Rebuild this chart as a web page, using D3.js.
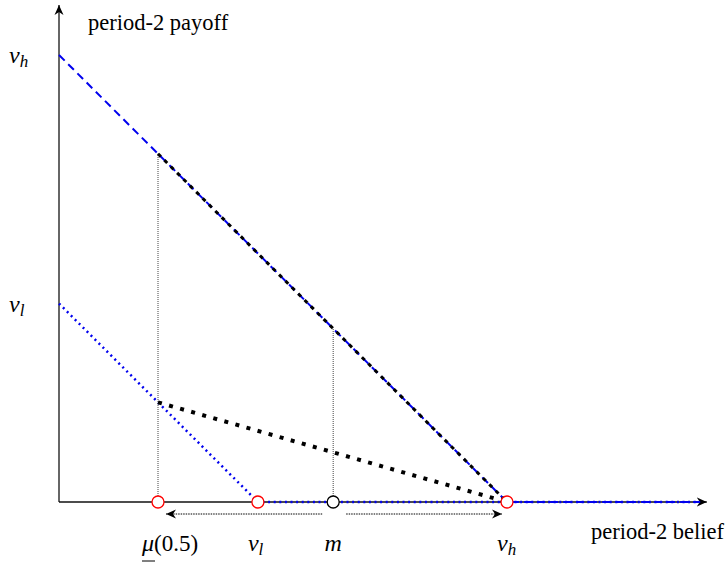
<!DOCTYPE html>
<html>
<head>
<meta charset="utf-8">
<script src="https://d3js.org/d3.v7.min.js"></script>
<style>
body { margin: 0; background: #fff; }
</style>
</head>
<body>
<div id="chart"></div>
<script>
// values in belief / payoff units (v_h normalised to 1)
var vh = 1, vl = 0.444, mu = 0.221, m = 0.612;
var xTicks = [mu, vl, m, vh];
var xTickLabels = ["mu", "vl", "m", "vh"];
var yTicks = [vh, vl];
var yTickLabels = ["vh", "vl"];
var redPoints = [mu, vl, vh];
var blackPoints = [m];

var w = 725, h = 565;
var serif = "'Liberation Serif', 'DejaVu Serif', serif";
var x = d3.scaleLinear().domain([0, 1]).range([59, 507]);
var y = d3.scaleLinear().domain([0, 1]).range([502, 55]);
var xMax = 1.446, yMax = 1.112;

var svg = d3.select("#chart").append("svg")
	.attr("width", w)
	.attr("height", h)
	.style("font-family", serif);

// arrowhead marker
var defs = svg.append("defs");
defs.append("marker")
	.attr("id", "head")
	.attr("viewBox", "-10 -5 11 10")
	.attr("refX", 0).attr("refY", 0)
	.attr("markerWidth", 11).attr("markerHeight", 10)
	.attr("markerUnits", "userSpaceOnUse")
	.attr("orient", "auto-start-reverse")
	.append("path")
	.attr("d", "M0,0 L-10,-4.5 L-7,0 L-10,4.5 Z")
	.attr("fill", "#000");

var line = d3.line().x(function(d) { return x(d[0]); }).y(function(d) { return y(d[1]); });

// axes
svg.append("line")
	.attr("x1", x(0)).attr("y1", y(0)).attr("x2", x(0)).attr("y2", y(yMax))
	.attr("stroke", "#333").attr("stroke-width", 1.5)
	.attr("marker-end", "url(#head)");
svg.append("line")
	.attr("x1", x(0)).attr("y1", y(0)).attr("x2", x(xMax)).attr("y2", y(0))
	.attr("stroke", "#111").attr("stroke-width", 1.5)
	.attr("marker-end", "url(#head)");

// blue lines
svg.append("path")
	.attr("d", line([[0, vh], [vh, 0], [xMax - 0.015, 0]]))
	.attr("fill", "none").attr("stroke", "#0000ee").attr("stroke-width", 2)
	.attr("stroke-dasharray", "8,5");
svg.append("path")
	.attr("d", line([[0, vl], [vl, 0], [xMax - 0.015, 0]]))
	.attr("fill", "none").attr("stroke", "#0000ee").attr("stroke-width", 2.5)
	.attr("stroke-dasharray", "2,3.6");

// vertical guides
[mu, m].forEach(function(b) {
	svg.append("line")
		.attr("x1", x(b)).attr("x2", x(b))
		.attr("y1", y(0)).attr("y2", y(vh - b))
		.attr("stroke", "#444").attr("stroke-width", 1)
		.attr("stroke-dasharray", "1,1");
});

// black overlays
svg.append("path")
	.attr("d", line([[mu, vh - mu], [vh, 0]]))
	.attr("fill", "none").attr("stroke", "#000").attr("stroke-width", 3)
	.attr("stroke-dasharray", "4,5");
svg.append("path")
	.attr("d", line([[mu, vl - mu], [vh, 0]]))
	.attr("fill", "none").attr("stroke", "#000").attr("stroke-width", 4)
	.attr("stroke-dasharray", "4,7.5");

// double arrow under the axis
var ay = y(0) + 12;
svg.append("line")
	.attr("x1", x(m) - 11).attr("x2", x(mu) + 8)
	.attr("y1", ay).attr("y2", ay)
	.attr("stroke", "#000").attr("stroke-width", 1)
	.attr("stroke-dasharray", "1.5,1")
	.attr("marker-end", "url(#head)");
svg.append("line")
	.attr("x1", x(m) + 13).attr("x2", x(vh) - 5)
	.attr("y1", ay).attr("y2", ay)
	.attr("stroke", "#000").attr("stroke-width", 1)
	.attr("stroke-dasharray", "1.5,1")
	.attr("marker-end", "url(#head)");

// points
svg.selectAll("circle.red").data(redPoints).enter().append("circle")
	.attr("class", "red")
	.attr("cx", function(d) { return x(d); }).attr("cy", y(0)).attr("r", 6)
	.attr("fill", "#fff").attr("stroke", "#ff0000").attr("stroke-width", 1.3);
svg.selectAll("circle.blk").data(blackPoints).enter().append("circle")
	.attr("class", "blk")
	.attr("cx", function(d) { return x(d); }).attr("cy", y(0)).attr("r", 6)
	.attr("fill", "#fff").attr("stroke", "#000").attr("stroke-width", 1.3);

// math label helper
function mathLabel(g, key) {
	var t = g.append("text").attr("font-size", 24).attr("font-family", serif);
	if (key == "mu") {
		t.append("tspan").attr("font-style", "italic").text("μ");
		t.append("tspan").attr("font-size", 23).text("(0.5)");
	} else if (key == "m") {
		t.append("tspan").attr("font-style", "italic").text("m");
	} else {
		t.append("tspan").attr("font-style", "italic").text("v");
		t.append("tspan").attr("font-style", "italic").attr("font-size", 17)
			.attr("dy", 4).text(key.charAt(1));
	}
	return t;
}

// y labels
yTicks.forEach(function(v, i) {
	var g = svg.append("g").attr("transform", "translate(9," + (y(v) + 8) + ")");
	mathLabel(g, yTickLabels[i]);
});

// x labels
xTicks.forEach(function(v, i) {
	var g = svg.append("g").attr("transform", "translate(" + x(v) + ",551)");
	var t = mathLabel(g, xTickLabels[i]).attr("text-anchor", "middle");
	if (xTickLabels[i] == "mu") {
		t.attr("text-anchor", null).attr("x", -16);
		g.append("line")
			.attr("x1", -16).attr("x2", -3)
			.attr("y1", 10).attr("y2", 10)
			.attr("stroke", "#000").attr("stroke-width", 1);
	}
	if (xTickLabels[i] == "vl" || xTickLabels[i] == "vh") {
		t.attr("text-anchor", null).attr("x", -10);
	}
});

// axis titles
svg.append("text").attr("x", 88).attr("y", 30).attr("font-size", 22.5)
	.attr("font-family", serif).text("period-2 payoff");
svg.append("text").attr("x", 591).attr("y", 539).attr("font-size", 22.5)
	.attr("font-family", serif).text("period-2 belief");
</script>
</body>
</html>
